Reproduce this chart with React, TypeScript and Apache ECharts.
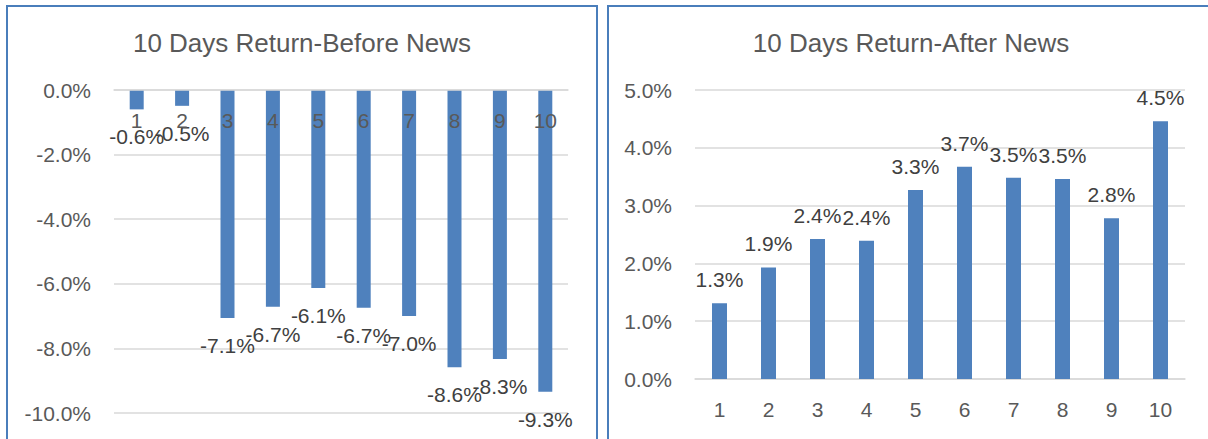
import React, { useEffect, useRef } from "react";
import * as echarts from "echarts";

const categories = ["1", "2", "3", "4", "5", "6", "7", "8", "9", "10"];
const beforeValues = [-0.6, -0.49, -7.06, -6.71, -6.13, -6.74, -7.0, -8.58, -8.33, -9.34];
const afterValues = [1.31, 1.93, 2.42, 2.39, 3.27, 3.67, 3.48, 3.46, 2.78, 4.46];
const titleBefore = "10 Days Return-Before News";
const titleAfter = "10 Days Return-After News";

const FONT = "'Liberation Sans', Arial, sans-serif";
const BAR = "#4f81bd";
const AXIS_TXT = "#595959";
const LABEL_TXT = "#404040";
const GRID = "#d9d9d9";
const BORDER = "#4a7ebb";

const pct = (v: number) => v.toFixed(1) + "%";

export default function App() {
  const ref = useRef<HTMLDivElement>(null);
  useEffect(() => {
    document.body.style.margin = "0";
    if (!ref.current) return;
    const chart = echarts.init(ref.current, undefined, { renderer: "svg" });
    const xAxisCommon = {
      type: "category" as const,
      data: categories,
      axisTick: { show: false },
      axisLine: { show: true, onZero: false, lineStyle: { color: GRID, width: 1.5 } },
      axisLabel: { color: AXIS_TXT, fontSize: 21, fontFamily: FONT, margin: 20 },
    };
    const yLabel = { color: AXIS_TXT, fontSize: 21, fontFamily: FONT, margin: 23, formatter: pct };
    chart.setOption({
      animation: false,
      grid: [
        { left: 114, top: 90, width: 454, height: 323, containLabel: false, outerBoundsMode: "none" },
        { left: 695, top: 90, width: 490, height: 289, containLabel: false, outerBoundsMode: "none" },
      ],
      xAxis: [
        { ...xAxisCommon, gridIndex: 0, position: "bottom", offset: -323, z: 10 },
        { ...xAxisCommon, gridIndex: 1 },
      ],
      yAxis: [
        {
          type: "value",
          gridIndex: 0,
          min: -10,
          max: 0,
          interval: 2,
          axisLine: { show: false },
          axisTick: { show: false },
          splitLine: { lineStyle: { color: GRID, width: 1.5 } },
          axisLabel: yLabel,
        },
        {
          type: "value",
          gridIndex: 1,
          min: 0,
          max: 5,
          interval: 1,
          axisLine: { show: false },
          axisTick: { show: false },
          splitLine: { lineStyle: { color: GRID, width: 1.5 } },
          axisLabel: yLabel,
        },
      ],
      series: [
        {
          type: "bar",
          xAxisIndex: 0,
          yAxisIndex: 0,
          data: beforeValues,
          barWidth: 14,
          z: 2,
          itemStyle: { color: BAR },
          label: {
            show: true,
            position: "bottom",
            distance: 17,
            color: LABEL_TXT,
            fontSize: 21,
            fontFamily: FONT,
            formatter: (p: any) => pct(p.value),
          },
        },
        {
          type: "bar",
          xAxisIndex: 1,
          yAxisIndex: 1,
          data: afterValues,
          barWidth: 15,
          itemStyle: { color: BAR },
          label: {
            show: true,
            position: "top",
            distance: 13,
            color: LABEL_TXT,
            fontSize: 21,
            fontFamily: FONT,
            formatter: (p: any) => pct(p.value),
          },
        },
      ],
      graphic: [
        {
          type: "polyline",
          shape: { points: [[7, 440], [7, 6], [597, 6], [597, 440]] },
          style: { stroke: BORDER, lineWidth: 2, fill: "none" },
          silent: true,
        },
        {
          type: "polyline",
          shape: { points: [[608, 440], [608, 6], [1210, 6]] },
          style: { stroke: BORDER, lineWidth: 2, fill: "none" },
          silent: true,
        },
        {
          type: "text",
          x: 302,
          y: 43,
          style: {
            text: titleBefore,
            fontSize: 26,
            fontFamily: FONT,
            fill: AXIS_TXT,
            textAlign: "center",
            textVerticalAlign: "middle",
          },
        },
        {
          type: "text",
          x: 911,
          y: 43,
          style: {
            text: titleAfter,
            fontSize: 26,
            fontFamily: FONT,
            fill: AXIS_TXT,
            textAlign: "center",
            textVerticalAlign: "middle",
          },
        },
      ],
    });
    return () => chart.dispose();
  }, []);
  return <div ref={ref} style={{ width: 1208, height: 439 }} />;
}
